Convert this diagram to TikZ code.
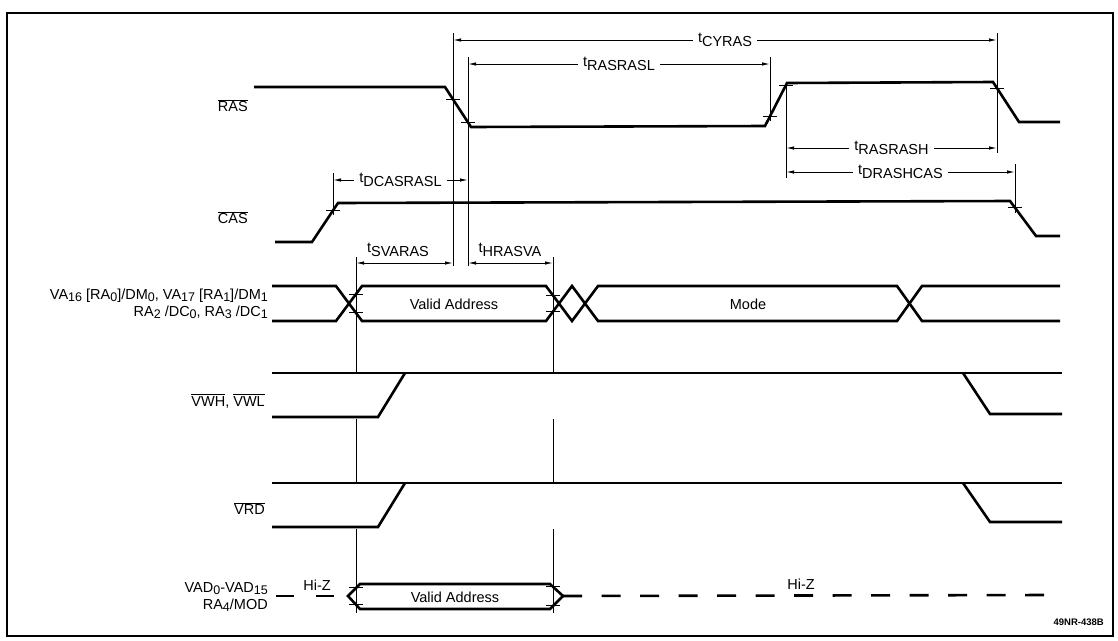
\documentclass[tikz,border=0pt]{standalone}
\usepackage{fontspec}
\setmainfont{Liberation Sans}
\usetikzlibrary{arrows.meta}
\newcommand\tsub[1]{\raisebox{-2.5pt}{\fontsize{12.5}{13}\selectfont #1}}
\newcommand\tname[1]{t\raisebox{-3.5pt}{#1}}
\newcommand\ovl[1]{$\overline{\mbox{#1}}$}
\begin{document}
\begin{tikzpicture}[x=1pt,y=-1pt,
  sig/.style={line width=2.6pt},
  thinl/.style={line width=1pt},
  dim/.style={line width=1pt,{Latex[length=8pt,width=3.5pt]}-{Latex[length=8pt,width=3.5pt]}},
  txt/.style={font=\fontsize{14.5}{17}\selectfont, inner sep=0pt},
  tl/.style={txt, fill=white, inner xsep=5pt, inner ysep=1pt},
  ]
\useasboundingbox (0,0) rectangle (1118,640);
\fill[white] (0,0) rectangle (1118,640);
\draw[line width=1.5pt] (7,13) rectangle (1113,636);

% signal labels
\node[txt, anchor=east] (ras) at (248,106) {\ovl{RAS}};
\node[txt, anchor=east] (cas) at (248,218) {\ovl{CAS}};
\node[txt, anchor=east, align=right] (va) at (268,304)
  {VA\tsub{16} [RA\tsub{0}]/DM\tsub{0}, VA\tsub{17} [RA\tsub{1}]/DM\tsub{1}\\
   RA\tsub{2} /DC\tsub{0}, RA\tsub{3} /DC\tsub{1}};
\node[txt, anchor=east] (vwh) at (265,401) {\ovl{VWH}, \ovl{VWL}};
\node[txt, anchor=east] (vrd) at (265,509) {\ovl{VRD}};
\node[txt, anchor=east, align=right] (vad) at (268,597)
  {VAD\tsub{0}-VAD\tsub{15}\\RA\tsub{4}/MOD};

% RAS
\draw[sig] (254,87) -- (445,87) -- (471,127) -- (765,126) -- (787,83) -- (993,82) -- (1019,122) -- (1060,122);
% CAS
\draw[sig] (275,242) -- (312,242) -- (338,203) -- (1010,201) -- (1036,236) -- (1060,236);
% VA row
\draw[sig] (272,286) -- (336,286) -- (362,321) -- (546,321) -- (572,286) -- (598,321) -- (897,321) -- (922,286) -- (1060,286);
\draw[sig] (272,321) -- (336,321) -- (362,286) -- (546,286) -- (572,321) -- (598,286) -- (897,286) -- (922,321) -- (1060,321);
\node[txt] (valid1) at (454,304) {Valid Address};
\node[txt] (mode) at (748,304) {Mode};
% VWH
\draw[sig] (272,373) -- (1062,373);
\draw[sig] (272,417) -- (378,417) -- (405,373);
\draw[sig] (963,373) -- (990,414) -- (1062,414);
% VRD
\draw[sig] (272,483) -- (1062,483);
\draw[sig] (272,527) -- (378,527) -- (405,483);
\draw[sig] (963,483) -- (990,522) -- (1062,522);
% VAD
\draw[sig] (276,596) -- (294,596);
\draw[sig] (316,596) -- (334,596);
\node[txt, anchor=base] (hiz1) at (317,590) {Hi-Z};
\draw[sig, line join=miter] (348,596) -- (360,584) -- (550,584) -- (563,596) -- (550,609) -- (360,609) -- cycle;
\node[txt] (valid2) at (455,597) {Valid Address};
\draw[sig, dash pattern=on 19pt off 19.5pt] (563,596) -- (1048,595);
\node[txt, anchor=base] (hiz2) at (801,589) {Hi-Z};

% vertical reference lines
\draw[thinl] (453,33) -- (453,266);
\draw[thinl] (468,57) -- (468,266);
\draw[thinl] (770,57) -- (770,121);
\draw[thinl] (786,84) -- (786,178);
\draw[thinl] (997,33) -- (997,153);
\draw[thinl] (1015,164) -- (1015,213);
\draw[thinl] (333,173) -- (333,215);
\foreach \x in {356,553} {
  \draw[thinl] (\x,257) -- (\x,373);
  \draw[thinl] (\x,419) -- (\x,483);
  \draw[thinl] (\x,529) -- (\x,613);
}

% ticks
\foreach \x/\y in {453/99.3, 468/122.4, 770/116.2, 786/85, 997/88,
                   333/210.5, 1015/207.7,
                   356/294, 356/312.9, 553/295.4, 553/311.6,
                   356/587.7, 356/604.3, 553/586.4, 553/605.6}
  \draw[thinl] (\x-7,\y) -- (\x+7,\y);

% timing dimensions
\draw[dim] (453,40) -- node[tl] (tcyras) {\tname{CYRAS}} (997,40);
\draw[dim] (468,64) -- node[tl] (trasrasl) {\tname{RASRASL}} (770,64);
\draw[dim] (786,148) -- node[tl] (trasrash) {\tname{RASRASH}} (997,148);
\draw[dim] (786,172) -- node[tl] (tdrashcas) {\tname{DRASHCAS}} (1015,172);
\draw[dim] (333,180) -- node[tl] (tdcasrasl) {\tname{DCASRASL}} (468,180);
\draw[dim] (356,263) -- (453,263);
\node[txt] (tsvaras) at (398,250) {\tname{SVARAS}};
\draw[dim] (468,263) -- (553,263);
\node[txt] (thrasva) at (510,250) {\tname{HRASVA}};

\node[font=\fontsize{9.5}{11}\selectfont\bfseries, anchor=east, inner sep=0pt] (code) at (1104,622) {49NR-438B};
\end{tikzpicture}
\end{document}
